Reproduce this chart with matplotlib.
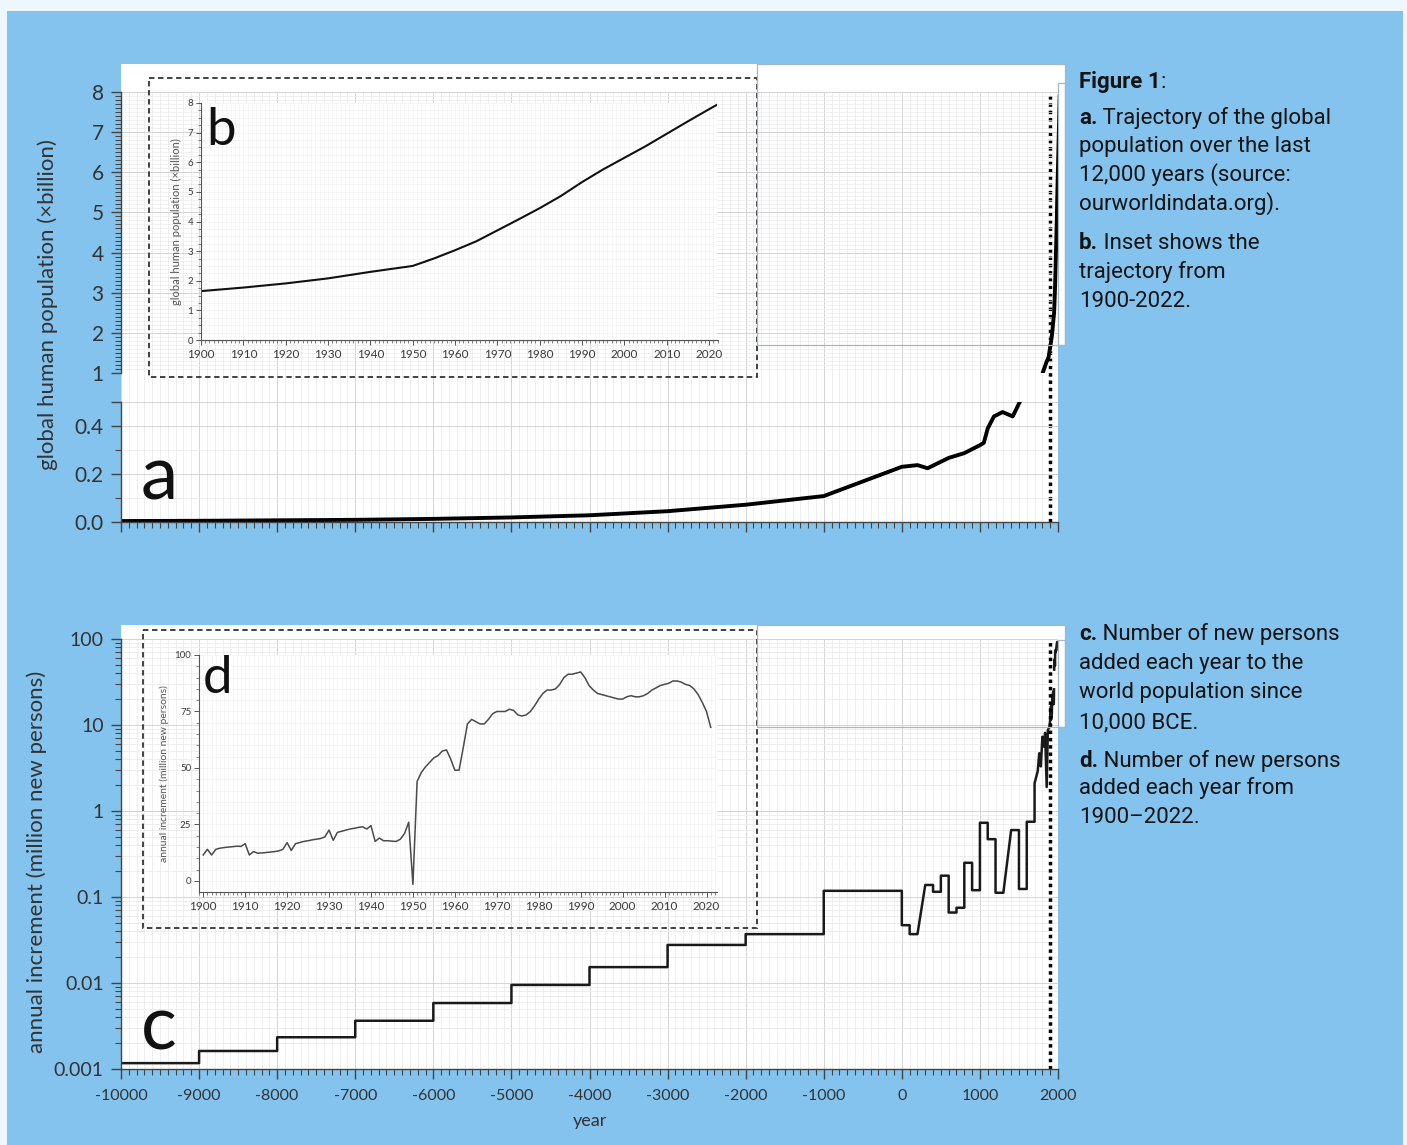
import numpy as np
import matplotlib
matplotlib.use('Agg')
import matplotlib.pyplot as plt
from matplotlib.patches import Rectangle
from matplotlib.ticker import (MultipleLocator, FixedLocator, FixedFormatter,
                               NullFormatter, LogLocator)

W, H = 1407, 1145

# ---- data ----
# a: global population (billion), long run
a_years = [-10000, -9000, -8000, -7000, -6000, -5000, -4000, -3000, -2000,
           -1000, 0, 200, 330, 600, 800, 1000, 1050, 1100, 1180, 1290, 1420,
           1510, 1600, 1700, 1800, 1850, 1880]
a_pop = [0.004, 0.005, 0.007, 0.009, 0.013, 0.019, 0.028, 0.045, 0.072,
         0.108, 0.23, 0.237, 0.224, 0.267, 0.287, 0.32, 0.33, 0.39, 0.44,
         0.458, 0.44, 0.5, 0.58, 0.70, 0.98, 1.26, 1.40]

# b: 1900-2022
b_years = [1900, 1910, 1920, 1930, 1940, 1950, 1955, 1960, 1965, 1970, 1975,
           1980, 1985, 1990, 1995, 2000, 2005, 2010, 2015, 2020, 2022]
b_pop = [1.65, 1.77, 1.91, 2.08, 2.30, 2.50, 2.75, 3.03, 3.33, 3.70, 4.07,
         4.45, 4.86, 5.33, 5.76, 6.15, 6.54, 6.96, 7.38, 7.79, 7.95]

# c: annual increment (million persons), 10000 BCE - 1899
c_years = [-10000, -9000, -9000, -8000, -8000, -7000, -7000, -6000, -6000,
           -5000, -5000, -4000, -4000, -3000, -3000, -2000, -2000, -1000,
           -1000, 0, 0, 100, 100, 200, 300, 400, 400, 500, 500, 600, 600,
           700, 700, 800, 800, 900, 900, 1000, 1000, 1100, 1100, 1200, 1200,
           1300, 1400, 1500, 1500, 1600, 1600, 1700, 1700, 1740, 1760, 1780,
           1800, 1820, 1835, 1855, 1870, 1890]
c_inc = [0.00117, 0.00117, 0.00162, 0.00162, 0.00234, 0.00234, 0.00364,
         0.00364, 0.00585, 0.00585, 0.0095, 0.0095, 0.0153, 0.0153, 0.0277,
         0.0277, 0.037, 0.037, 0.118, 0.118, 0.047, 0.047, 0.037, 0.037,
         0.138, 0.138, 0.115, 0.115, 0.177, 0.177, 0.066, 0.066, 0.075,
         0.075, 0.25, 0.25, 0.12, 0.12, 0.73, 0.73, 0.47, 0.47, 0.112,
         0.112, 0.6, 0.6, 0.124, 0.124, 0.75, 0.75, 2.1, 2.9, 4.7, 3.3,
         7.3, 5.6, 8.1, 1.9, 8.7, 9.5]

# d: annual increment 1900-2021
d_years = list(range(1900, 2022))
d_inc = [11.5, 14, 11.5, 14, 14.5, 14.8, 15, 15.2, 15.4, 15.3,
         16.5, 11.5, 13, 12.3, 12.4, 12.6, 12.8, 13, 13.3, 14,
         17, 13.5, 16.5, 17, 17.5, 17.8, 18.2, 18.5, 18.8, 19.5,
         22.5, 18, 21.5, 22, 22.5, 23, 23.3, 23.7, 24, 23,
         24.5, 17.5, 19, 17.8, 17.8, 17.6, 17.5, 18.5, 21, 26,
         -1.5, 44, 48, 50.5, 52.5, 54.5, 55.5, 57.5, 58, 54,
         49, 49, 59, 69.5, 71.5, 70.5, 69.5, 69.5, 71.5, 74,
         75, 75, 75, 76, 75.5, 73.5, 73, 73.5, 75, 77.5,
         80.5, 83, 84.5, 84.5, 85, 87, 90, 91.5, 91.5, 92,
         92.5, 90, 86.5, 84.5, 83, 82.5, 82, 81.5, 81, 80.5,
         80.5, 81.5, 82, 81.5, 81.5, 82, 83, 84.5, 85.5, 86.5,
         87, 87.5, 88.5, 88.5, 88, 87, 86.5, 85, 82.5, 79,
         75, 68]

top_ticks = [1, 2, 3, 4, 5, 6, 7, 8]
bot_ticks = [0.0, 0.2, 0.4, 0.5]
bot_labels = ['0.0', '0.2', '0.4', '']
inc_ticks = [0.001, 0.01, 0.1, 1, 10, 100]
inc_labels = ['0.001', '0.01', '0.1', '1', '10', '100']
year_ticks = list(range(-10000, 2001, 1000))
year_labels = [str(v) for v in year_ticks]
inset_xticks = list(range(1900, 2021, 10))
d_yticks = [0, 25, 50, 75, 100]
marker_year = 1900

plt.rcParams['font.family'] = ['Lato', 'DejaVu Sans']
CAP_FONT = ['Roboto', 'DejaVu Sans']

BLUE = '#84c3ee'
INK = '#333333'
SPINE = '#444444'
GRID_MAJ = '#d4d4d4'
GRID_MIN = '#ebebeb'

fig = plt.figure(figsize=(W / 100, H / 100), dpi=100)
fig.patch.set_facecolor('#eef6fe')


def box(x0, y0, x1, y1):
    return [x0 / W, 1 - y1 / H, (x1 - x0) / W, (y1 - y0) / H]


def style(ax, left=True, bottom=True):
    ax.set_facecolor('none')
    for s in ['top', 'right']:
        ax.spines[s].set_visible(False)
    ax.spines['left'].set_visible(left)
    ax.spines['bottom'].set_visible(bottom)
    for s in ['left', 'bottom']:
        ax.spines[s].set_color(SPINE)
        ax.spines[s].set_linewidth(1)
    ax.tick_params(which='both', direction='out', color=SPINE, labelcolor=INK)
    ax.tick_params(which='major', length=7.5, width=1)
    ax.tick_params(which='minor', length=4, width=0.8)


# background layer
bg = fig.add_axes([0, 0, 1, 1], zorder=-5)
bg.set_xlim(0, W)
bg.set_ylim(H, 0)
bg.axis('off')
bg.add_patch(Rectangle((7, 11), 1396, H - 11, fc=BLUE, ec='none'))
for x0, y0, x1, y1 in [(121, 64, 1058, 522), (121, 625, 1058, 1070),
                       (757, 64, 1065, 345), (757, 625, 1065, 727)]:
    bg.add_patch(Rectangle((x0, y0), x1 - x0, y1 - y0, fc='white', ec='none'))

# ---- panel a (broken y axis) ----
ax_vg = fig.add_axes(box(121, 92, 1058, 522))
ax_vg.set_facecolor('none')
for s in ax_vg.spines.values():
    s.set_visible(False)
ax_vg.set_xlim(-10000, 2000)
ax_vg.set_ylim(0, 1)
ax_vg.set_yticks([])
ax_vg.xaxis.set_major_locator(MultipleLocator(1000))
ax_vg.xaxis.set_minor_locator(MultipleLocator(100))
ax_vg.tick_params(axis='x', which='both', length=0, labelbottom=False)
ax_vg.grid(True, axis='x', which='major', color=GRID_MAJ, lw=0.7)
ax_vg.grid(True, axis='x', which='minor', color=GRID_MIN, lw=0.6)
ax_vg.axvline(marker_year, color='black', ls=(0, (1, 1.1)), lw=2.5)

pop_years = a_years + b_years
pop_vals = a_pop + b_pop

ax_top = fig.add_axes(box(121, 92, 1058, 373))
style(ax_top, bottom=False)
ax_top.plot(pop_years, pop_vals, color='black', lw=2.8, solid_capstyle='butt')
ax_top.set_xlim(-10000, 2000)
ax_top.set_ylim(1, 8)
ax_top.set_xticks([])
ax_top.yaxis.set_major_locator(FixedLocator(top_ticks))
ax_top.yaxis.set_minor_locator(MultipleLocator(0.1))
ax_top.tick_params(axis='y', labelsize=15, pad=5)
ax_top.grid(True, axis='y', which='major', color=GRID_MAJ, lw=0.7)
ax_top.grid(True, axis='y', which='minor', color=GRID_MIN, lw=0.5)

ax_bot = fig.add_axes(box(121, 402, 1058, 522))
style(ax_bot)
ax_bot.plot(pop_years, pop_vals, color='black', lw=2.8, solid_capstyle='butt')
ax_bot.set_xlim(-10000, 2000)
ax_bot.set_ylim(0, 0.5)
ax_bot.yaxis.set_major_locator(FixedLocator(bot_ticks))
ax_bot.yaxis.set_major_formatter(FixedFormatter(bot_labels))
ax_bot.yaxis.set_minor_locator(MultipleLocator(0.1))
ax_bot.xaxis.set_major_locator(MultipleLocator(1000))
ax_bot.xaxis.set_minor_locator(MultipleLocator(100))
ax_bot.tick_params(axis='x', labelbottom=False)
ax_bot.tick_params(axis='y', labelsize=15, pad=5)
ax_bot.grid(True, axis='y', which='major', color=GRID_MAJ, lw=0.7)
ax_bot.grid(True, axis='y', which='minor', color=GRID_MIN, lw=0.6)

# ---- panel c (log) ----
ax_c = fig.add_axes(box(121, 639, 1058, 1069))
style(ax_c)
ax_c.set_yscale('log', nonpositive='mask')
ax_c.plot(c_years + d_years, c_inc + d_inc, color='#1a1a1a', lw=1.8)
ax_c.axvline(marker_year, color='black', ls=(0, (1, 1.1)), lw=2.5)
ax_c.set_xlim(-10000, 2000)
ax_c.set_ylim(0.001, 100)
ax_c.yaxis.set_major_locator(FixedLocator(inc_ticks))
ax_c.yaxis.set_major_formatter(FixedFormatter(inc_labels))
ax_c.yaxis.set_minor_locator(LogLocator(base=10, subs=range(2, 10)))
ax_c.yaxis.set_minor_formatter(NullFormatter())
ax_c.xaxis.set_major_locator(FixedLocator(year_ticks))
ax_c.xaxis.set_major_formatter(FixedFormatter(year_labels))
ax_c.xaxis.set_minor_locator(MultipleLocator(100))
ax_c.tick_params(axis='y', labelsize=14, pad=5)
ax_c.tick_params(axis='x', labelsize=11.5, pad=7)
ax_c.grid(True, which='major', color=GRID_MAJ, lw=0.7)
ax_c.grid(True, which='minor', color=GRID_MIN, lw=0.6)


def inset_style(ax):
    style(ax)
    ax.set_facecolor('white')
    for s in ['left', 'bottom']:
        ax.spines[s].set_color('#555555')
        ax.spines[s].set_linewidth(0.8)
    ax.tick_params(which='major', length=3.5, width=0.7, color='#555555')
    ax.tick_params(which='minor', length=2, width=0.5, color='#555555')
    ax.tick_params(axis='x', labelsize=8.5, pad=3, labelcolor='#3a3a3a')
    ax.tick_params(axis='y', labelsize=7, pad=2, labelcolor='#3a3a3a')


# ---- inset b ----
ax_b = fig.add_axes(box(201, 103, 717.5, 340))
inset_style(ax_b)
ax_b.plot(b_years, b_pop, color='#111111', lw=1.5)
ax_b.set_xlim(1900, 2022)
ax_b.set_ylim(0, 8)
ax_b.xaxis.set_major_locator(FixedLocator(inset_xticks))
ax_b.xaxis.set_minor_locator(MultipleLocator(1))
ax_b.yaxis.set_major_locator(MultipleLocator(1))
ax_b.yaxis.set_minor_locator(MultipleLocator(0.25))
ax_b.grid(True, which='both', color='#f0f0f0', lw=0.4)
ax_b.set_ylabel('global human population (\u00d7billion)', fontsize=8,
                color='#555555', labelpad=4)

# ---- inset d ----
ax_d = fig.add_axes(box(199, 655, 717, 891.6))
inset_style(ax_d)
ax_d.plot(d_years, d_inc, color='#4a4a4a', lw=1.1)
ax_d.set_xlim(1899, 2022.5)
ax_d.set_ylim(-4.7, 100)
ax_d.xaxis.set_major_locator(FixedLocator(inset_xticks))
ax_d.xaxis.set_minor_locator(MultipleLocator(1))
ax_d.yaxis.set_major_locator(FixedLocator(d_yticks))
ax_d.yaxis.set_minor_locator(MultipleLocator(5))
ax_d.grid(True, which='both', color='#f0f0f0', lw=0.4)
ax_d.set_ylabel('annual increment (million new persons)', fontsize=7.5,
                color='#555555', labelpad=4)

# ---- foreground: frames, letters, labels, captions ----
fg = fig.add_axes([0, 0, 1, 1], zorder=20)
fg.set_xlim(0, W)
fg.set_ylim(H, 0)
fg.axis('off')

for x0, y0, x1, y1 in [(149, 78, 757, 377), (143, 630, 757, 928)]:
    fg.add_patch(Rectangle((x0, y0), x1 - x0, y1 - y0, fill=False,
                           ls=(0, (3, 2)), lw=1.3, ec='#333333'))
for x0, y0, x1, y1 in [(757, 64, 1065, 345), (1058, 83, 1065, 345),
                       (757, 625, 1065, 727), (1058, 640, 1065, 727)]:
    fg.add_patch(Rectangle((x0, y0), x1 - x0, y1 - y0, fill=False,
                           lw=0.9, ec='#a3b5c6'))

for x, y, s, size in [(141, 500, 'a', 54), (206, 145, 'b', 38),
                      (141, 1050, 'c', 54), (203, 693, 'd', 38)]:
    fg.text(x, y, s, fontsize=size, va='baseline', ha='left', color='#111111')

fg.text(48, 305, 'global human population (\u00d7billion)', rotation=90,
        ha='center', va='center', fontsize=16, color=INK)
fg.text(37, 862, 'annual increment (million new persons)', rotation=90,
        ha='center', va='center', fontsize=16, color=INK)
fg.text(590, 1121, 'year', ha='center', va='center', fontsize=13, color=INK)

CAP = '#141414'


def caption(y, bold, rest):
    t = fg.text(1079, y, bold, fontsize=16, fontweight='bold',
                family=CAP_FONT, va='baseline', ha='left', color=CAP)
    if rest:
        fg.annotate(rest, xy=(1, 0), xycoords=t, va='bottom', ha='left',
                    fontsize=16, family=CAP_FONT, color=CAP)


def plain(y, s):
    fg.text(1079, y, s, fontsize=16, family=CAP_FONT, va='baseline',
            ha='left', color=CAP)


caption(88, 'Figure 1', ':')
caption(124, 'a.', ' Trajectory of the global')
plain(152, 'population over the last')
plain(181, '12,000 years (source:')
plain(210, 'ourworldindata.org).')
caption(249, 'b.', ' Inset shows the')
plain(278, 'trajectory from')
plain(307, '1900-2022.')

caption(640, 'c.', ' Number of new persons')
plain(669, 'added each year to the')
plain(698, 'world population since')
plain(728, '10,000 BCE.')
caption(767, 'd.', ' Number of new persons')
plain(794, 'added each year from')
plain(823, '1900\u20132022.')

fig.savefig('out.png', dpi=100, facecolor=fig.get_facecolor())
